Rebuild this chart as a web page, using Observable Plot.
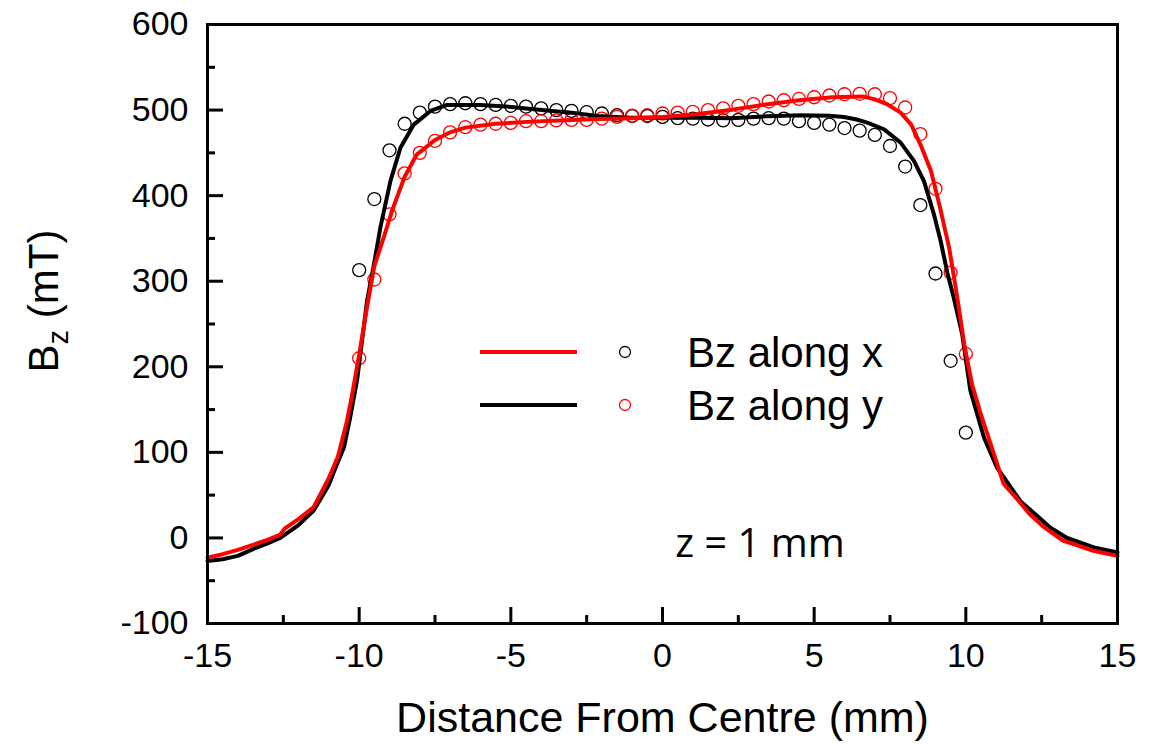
<!DOCTYPE html>
<html><head><meta charset="utf-8">
<script src="https://cdn.jsdelivr.net/npm/d3@7"></script>
<script src="https://cdn.jsdelivr.net/npm/@observablehq/plot@0.6"></script>
<style>
body{margin:0;background:#fff}
#chart{position:relative;width:1150px;height:744px}
</style>
</head><body><div id="chart"></div>
<script>
// ---- data ----
const dotX = [-10, -9.5, -9, -8.5, -8, -7.5, -7, -6.5, -6, -5.5, -5, -4.5, -4, -3.5, -3, -2.5, -2, -1.5, -1, -0.5,
  0, 0.5, 1, 1.5, 2, 2.5, 3, 3.5, 4, 4.5, 5, 5.5, 6, 6.5, 7, 7.5, 8, 8.5, 9, 9.5, 10];
// black circles
const blackDots = [313, 396, 453, 484, 497, 504, 507, 508, 507, 506, 505, 504, 502, 500, 499, 497.5, 496, 494, 493, 493,
  492, 490.5, 490, 489, 488, 488.5, 490, 490.5, 490, 487, 485, 483, 479, 476, 471, 458, 434, 389, 309, 207, 123];
// red circles
const redDots = [210, 302, 378, 426, 450, 464, 474, 480, 483, 484, 485, 487, 487, 488, 488.5, 488.5, 490, 492, 493.5, 494,
  496, 497, 498, 500, 502, 505, 507, 510, 511.5, 513, 515, 517, 518.5, 519, 518.5, 514, 503, 472, 408, 310, 215];

const redLineX = [-15, -14.5, -14, -13.5, -13, -12.6, -12.45, -12, -11.5, -11, -10.7, -10.4, -10.25, -10, -9.75, -9.5, -9.2, -8.9, -8.5, -8.1,
  -7.5, -7, -6.5, -5.5, -4.3, -3.2, -2.1, -1, 0, 1.1, 2.3, 3.4, 4.5, 5.6, 6.6, 7, 7.4, 7.85, 8.2, 8.5,
  8.85, 9.15, 9.45, 9.7, 9.95, 10.2, 10.5, 11, 11.25, 11.7, 12.1, 12.6, 13.2, 13.7, 14.2, 15];
const redLineY = [-23, -19, -14, -8, -2, 4, 11, 22, 36, 70, 95, 137, 164, 214, 268, 318, 350, 384, 422, 448,
  465, 474, 479.5, 484, 486.5, 488, 489.5, 490.5, 492, 495, 500.5, 506.5, 511.5, 515, 516, 512.5, 507, 497, 483, 460,
  429, 386, 339, 285, 226, 180, 144, 90, 63, 45, 28, 12, -3, -9, -15, -21];

const blackLineX = [-15, -14.5, -14, -13.5, -13, -12.6, -12, -11.5, -11, -10.78, -10.5, -10.3, -10.07, -9.85, -9.74, -9.5, -9.3, -8.97, -8.64, -8.2,
  -7.65, -7.1, -6, -5, -3.9, -3, -2.15, -1.05, 0, 1.25, 2.24, 3.45, 4.55, 5.5, 5.98, 6.4, 6.75, 7.3, 7.85, 8.29,
  8.62, 8.95, 9.17, 9.39, 9.6, 9.88, 10.15, 10.6, 11.03, 11.8, 12.79, 13.34, 14.22, 15];
const blackLineY = [-27, -25, -21, -13, -6, 0, 15, 32, 62, 82, 106, 140, 184, 246, 277, 322, 363, 417, 456, 483,
  499, 506, 506, 503.7, 499.8, 497, 493, 491, 491, 491, 490.5, 492.8, 494, 493.5, 492, 489, 485.4, 477.6, 462, 440.6,
  417, 378, 347, 310, 281, 238, 172, 117, 82, 43, 12, 0, -11, -17];

const xDomain = [-15, 15];
const yDomain = [-100, 600];
const xTicks = [-15, -10, -5, 0, 5, 10, 15];
const xMinorTicks = [-12.5, -7.5, -2.5, 2.5, 7.5, 12.5];
const yTicks = [-100, 0, 100, 200, 300, 400, 500, 600];
const yMinorTicks = [-50, 50, 150, 250, 350, 450, 550];
const xTitle = "Distance From Centre (mm)";
const yTitleMain = "B", yTitleSub = "z", yTitleUnit = " (mT)";
const legendLabels = ["Bz along x", "Bz along y"];
const annotation = "z = 1 mm";

// ---- tables ----
const blackDotData = dotX.map((x, i) => ({x, y: blackDots[i]}));
const redDotData = dotX.map((x, i) => ({x, y: redDots[i]}));
const redLineData = redLineX.map((x, i) => ({x, y: redLineY[i]}));
const blackLineData = blackLineX.map((x, i) => ({x, y: blackLineY[i]}));

const font = "'Liberation Sans', Arial, sans-serif";
const plot = Plot.plot({
  width: 1150, height: 744,
  marginLeft: 207, marginRight: 33, marginTop: 24, marginBottom: 121,
  x: {domain: xDomain},
  y: {domain: yDomain},
  style: {fontFamily: font, fontSize: "34px", color: "#000", background: "#fff", overflow: "visible"},
  marks: [
    Plot.dot(blackDotData, {x: "x", y: "y", r: 6.5, stroke: "#000", strokeWidth: 1.3, fill: "none"}),
    Plot.dot(redDotData, {x: "x", y: "y", r: 6.5, stroke: "#ff0000", strokeWidth: 1.3, fill: "none"}),
    Plot.line(blackLineData, {x: "x", y: "y", stroke: "#000", strokeWidth: 4}),
    Plot.line(redLineData, {x: "x", y: "y", stroke: "#ff0000", strokeWidth: 4}),
    Plot.axisX(xTicks, {tickSize: -16, strokeWidth: 3, tickFormat: () => "", label: null}),
    Plot.axisX(xMinorTicks, {tickSize: -8, strokeWidth: 3, tickFormat: () => "", label: null}),
    Plot.axisX(xTicks, {tickSize: 0, tickPadding: 19, tickFormat: d => String(d), fontSize: 34, label: null}),
    Plot.axisY(yTicks, {tickSize: -16, strokeWidth: 3, tickFormat: () => "", label: null}),
    Plot.axisY(yMinorTicks, {tickSize: -8, strokeWidth: 3, tickFormat: () => "", label: null}),
    Plot.axisY(yTicks, {tickSize: 0, tickPadding: 19, tickFormat: d => String(d), fontSize: 34, label: null}),
    Plot.frame({stroke: "#000", strokeWidth: 3}),
    Plot.text([xTitle], {frameAnchor: "bottom", dy: 108, fontSize: 43, fill: "#000"})
  ]
});
document.getElementById("chart").appendChild(plot);

// y title with subscript
const svg = d3.select(plot);
const yt = svg.append("text")
  .attr("transform", "translate(58,301) rotate(-90)")
  .attr("text-anchor", "middle")
  .attr("font-family", font).attr("font-size", 42).attr("fill", "#000");
yt.append("tspan").text(yTitleMain);
yt.append("tspan").attr("font-size", 29).attr("dy", 10).text(yTitleSub);
yt.append("tspan").attr("dy", -10).text(yTitleUnit);

// legend
const lg = svg.append("g").attr("font-family", font).attr("font-size", 42).attr("fill", "#000")
  .attr("text-anchor", "start");
const rows = [{y: 352, line: "#ff0000", dot: "#000"}, {y: 405, line: "#000", dot: "#ff0000"}];
rows.forEach((r, i) => {
  lg.append("line").attr("x1", 480).attr("x2", 577).attr("y1", r.y).attr("y2", r.y)
    .attr("stroke", r.line).attr("stroke-width", 4);
  lg.append("circle").attr("cx", 625).attr("cy", r.y).attr("r", 5.5)
    .attr("fill", "none").attr("stroke", r.dot).attr("stroke-width", 1.3);
  lg.append("text").attr("x", 687).attr("y", r.y).attr("dy", "0.35em").text(legendLabels[i]);
});
// annotation
svg.append("text").attr("x", 760).attr("y", 543).attr("dy", "0.35em").attr("text-anchor", "middle")
  .attr("font-family", "'Open Sans', sans-serif").attr("font-size", 40).attr("fill", "#000")
  .text(annotation);
</script>
</body></html>
